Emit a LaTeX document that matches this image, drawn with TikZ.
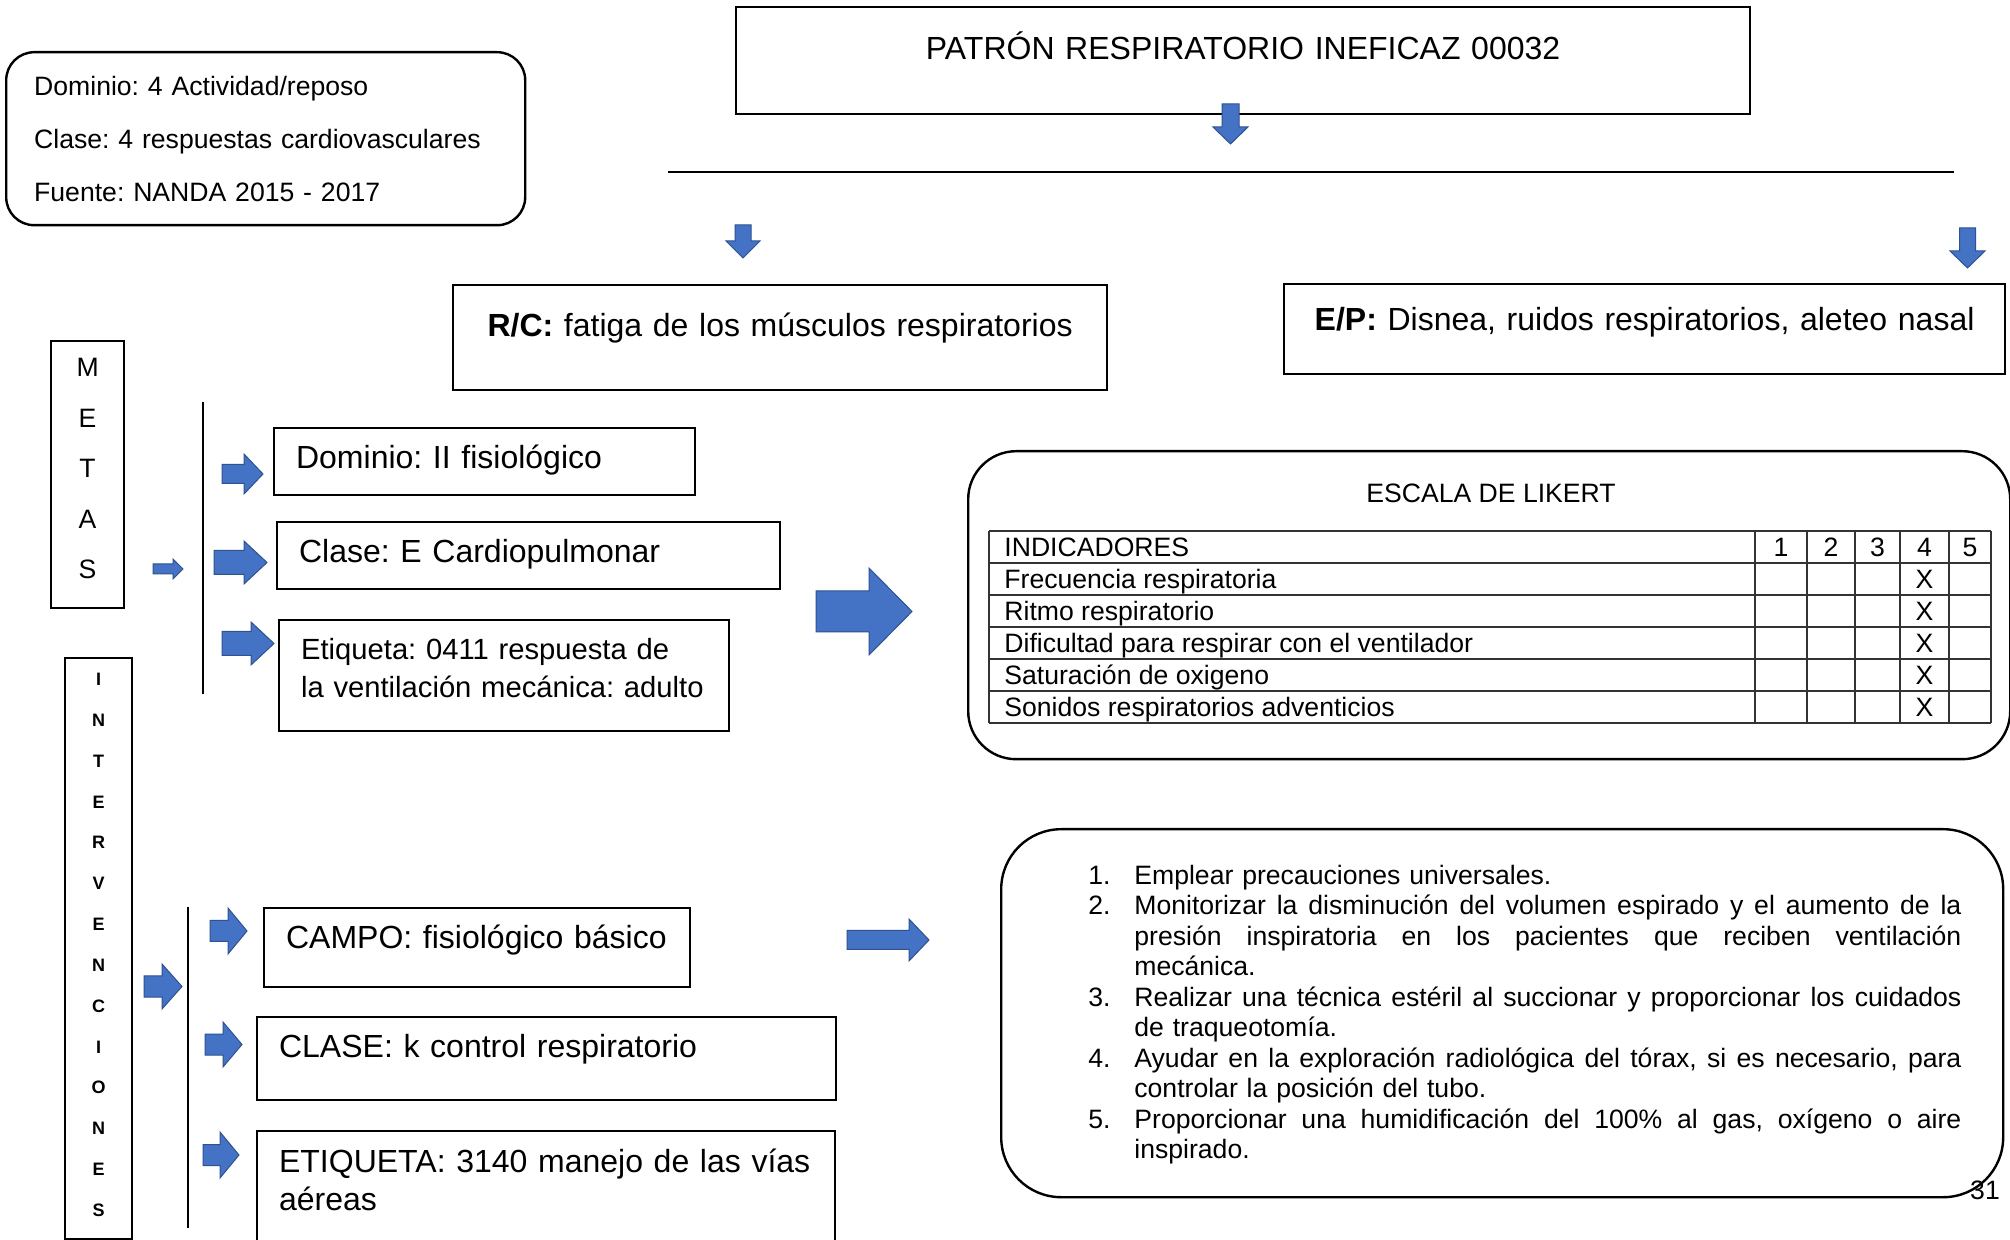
\documentclass[tikz,border=0pt]{standalone}
\usepackage{fontspec}
\setmainfont{Liberation Sans}
\definecolor{azul}{HTML}{4472C4}
\definecolor{azulBorde}{HTML}{2F528F}
\newcommand{\fuenteG}{\fontsize{16}{19}\selectfont}
\newcommand{\fuenteN}{\fontsize{13.3}{15.25}\selectfont}
\newcommand{\numero}[1]{\makebox[23pt][l]{#1.}}
\newcommand{\renglon}[1]{\hbox to 413.5pt{\spaceskip=0.278em plus 1fil\relax #1}}
\frenchspacing

\begin{document}
\begin{tikzpicture}[x=0.5pt, y=-0.5pt,
    caja/.style={draw, line width=1.1pt, anchor=north west, inner xsep=11pt, inner ysep=0pt, font=\fuenteG, align=left},
    redondo/.style={draw, line width=1.2pt, anchor=north west, inner sep=0pt},
    texto/.style={font=\fuenteN, inner sep=0pt},
    pics/flecha/.style n args={4}{code={
        \filldraw[fill=azul, draw=azulBorde, line width=0.5pt]
            (0,{-#3/2}) -- ({#1-#4},{-#3/2}) -- ({#1-#4},{-#2/2}) -- (#1,0)
            -- ({#1-#4},{#2/2}) -- ({#1-#4},{#3/2}) -- (0,{#3/2}) -- cycle;}}]

    \path[use as bounding box, fill=white] (0,0) rectangle (2010,1240);

    \node[caja, rounded corners=14pt, line width=1.2pt, font=\fontsize{13.3}{26.5}\selectfont, inner xsep=14pt,
        text width=231.5pt, text height=21.75pt, text depth=64.75pt] (info) at (5,51)
        {Dominio: 4 Actividad/reposo\\Clase: 4 respuestas cardiovasculares\\Fuente: NANDA 2015 - 2017};

    \node[caja, align=center, inner xsep=0pt, text width=507pt, text height=26.25pt, text depth=27.25pt] (titulo) at (735,6)
        {PATRÓN RESPIRATORIO INEFICAZ 00032};
    \draw[line width=1.2pt] (668,172) -- (1954,172);

    \pic[rotate=-90] (fTitulo) at (1230.5,104) {flecha={40}{35}{17}{17}};
    \pic[rotate=-90] (fRC) at (743,225) {flecha={33}{34}{16}{17}};
    \pic[rotate=-90] (fEP) at (1967.5,228) {flecha={40}{35}{16}{17}};

    \node[caja, align=center, inner xsep=0pt, text width=327pt, text height=25.75pt, text depth=26.75pt] (rc) at (452,284)
        {\textbf{R/C:} fatiga de los músculos respiratorios};
    \node[caja, align=center, inner xsep=0pt, text width=360.5pt, text height=23.25pt, text depth=21.75pt] (ep) at (1283,283)
        {\textbf{E/P:} Disnea, ruidos respiratorios, aleteo nasal};

    \node[caja, align=center, inner xsep=0pt, text width=36.5pt, font=\fontsize{13.3}{25.25}\selectfont,
        text height=17.75pt, text depth=115.75pt] (metas) at (50,340) {M\\E\\T\\A\\S};
    \node[caja, align=center, inner xsep=0pt, text width=33.5pt, font=\bfseries\fontsize{9}{20.42}\selectfont,
        text height=13.75pt, text depth=276.75pt] (intervenciones) at (64,657)
        {I\\N\\T\\E\\R\\V\\E\\N\\C\\I\\O\\N\\E\\S};

    \draw[line width=0.6pt] (203,402) -- (203,694);
    \draw[line width=0.6pt] (188,907) -- (188,1228);

    \pic (fMetas) at (153,569) {flecha={30}{20}{10}{10}};
    \pic (fDominio) at (222,474) {flecha={41}{40}{19}{19}};
    \pic (fClase) at (214,562.5) {flecha={53}{43}{24}{23}};
    \pic (fEtiqueta) at (222,643.5) {flecha={52}{43}{24}{23}};

    \node[caja, text width=188.5pt, text height=20.25pt, text depth=13.25pt] (dominio) at (273,427) {Dominio: II fisiológico};
    \node[caja, text width=229.5pt, text height=20.25pt, text depth=13.25pt] (clase) at (276,521) {Clase: E Cardiopulmonar};
    \node[caja, font=\fontsize{14.6}{19}\selectfont, text width=203pt, text height=19.8pt, text depth=35.7pt] (etiqueta) at (278,619)
        {\mbox{Etiqueta: 0411 respuesta de}\\\mbox{la ventilación mecánica: adulto}};

    \pic (fLikert) at (816,611.5) {flecha={96}{87}{41}{43}};

    \node[redondo, rounded corners=24pt, minimum width=521pt, minimum height=154pt] (likert) at (967,450) {};
    \node[texto, anchor=base] (escala) at (1491,502.5) {ESCALA DE LIKERT};
    \foreach \f in {0,...,6}
        \draw[line width=0.6pt, black!80] (989,531+32*\f) -- (1991,531+32*\f);
    \foreach \c in {989,1755,1807,1855,1900,1949,1991}
        \draw[line width=0.6pt, black!80] (\c,531) -- (\c,723);
    \node[texto, anchor=base west] (indicadores) at (1004,556.5) {INDICADORES};
    \foreach \n/\cx in {1/1781,2/1831,3/1877.5,4/1924.5,5/1970}
        \node[texto, anchor=base] (col\n) at (\cx,556.5) {\n};
    \foreach \t [count=\i] in {Frecuencia respiratoria, Ritmo respiratorio, Dificultad para respirar con el ventilador,
        Saturación de oxigeno, Sonidos respiratorios adventicios}{
        \node[texto, anchor=base west] (ind\i) at (1004,556.5+32*\i) {\t};
        \node[texto, anchor=base] (marca\i) at (1924.5,556.5+32*\i) {X};}

    \pic (fInterv) at (144,986.5) {flecha={38}{45}{21}{20}};
    \pic (fCampo) at (210,931) {flecha={37}{46}{21}{19}};
    \pic (fClaseInt) at (205,1044.5) {flecha={37}{45}{21}{19}};
    \pic (fEtiquetaInt) at (203,1155) {flecha={36}{46}{21}{19}};

    \node[caja, text width=191pt, text height=20.25pt, text depth=19.25pt] (campo) at (263,907) {CAMPO: fisiológico básico};
    \node[caja, text width=267.5pt, text height=20.25pt, text depth=21.25pt] (claseInt) at (256,1016) {CLASE: k control respiratorio};
    \node[caja, text width=267pt, text height=20.75pt, text depth=44.25pt] (etiquetaInt) at (256,1130)
        {ETIQUETA: 3140 manejo de las vías\\aéreas};

    \pic (fLista) at (847,940) {flecha={82}{42}{19}{20}};

    \node[redondo, rounded corners=30pt, minimum width=501pt, minimum height=184pt] (cajaLista) at (1000,828) {};
    \node[texto, anchor=base west, text width=436.5pt, align=left] (lista) at (1088,884.5) {%
        \numero{1}Emplear precauciones universales.\\
        \numero{2}\renglon{Monitorizar la disminución del volumen espirado y el aumento de la}\\
        \hspace*{23pt}\renglon{presión inspiratoria en los pacientes que reciben ventilación}\\
        \hspace*{23pt}mecánica.\\
        \numero{3}\renglon{Realizar una técnica estéril al succionar y proporcionar los cuidados}\\
        \hspace*{23pt}de traqueotomía.\\
        \numero{4}\renglon{Ayudar en la exploración radiológica del tórax, si es necesario, para}\\
        \hspace*{23pt}controlar la posición del tubo.\\
        \numero{5}\renglon{Proporcionar una humidificación del 100\% al gas, oxígeno o aire}\\
        \hspace*{23pt}inspirado.};

    \node[texto, anchor=base] (pagina) at (1985,1199.5) {31};
\end{tikzpicture}
\end{document}
